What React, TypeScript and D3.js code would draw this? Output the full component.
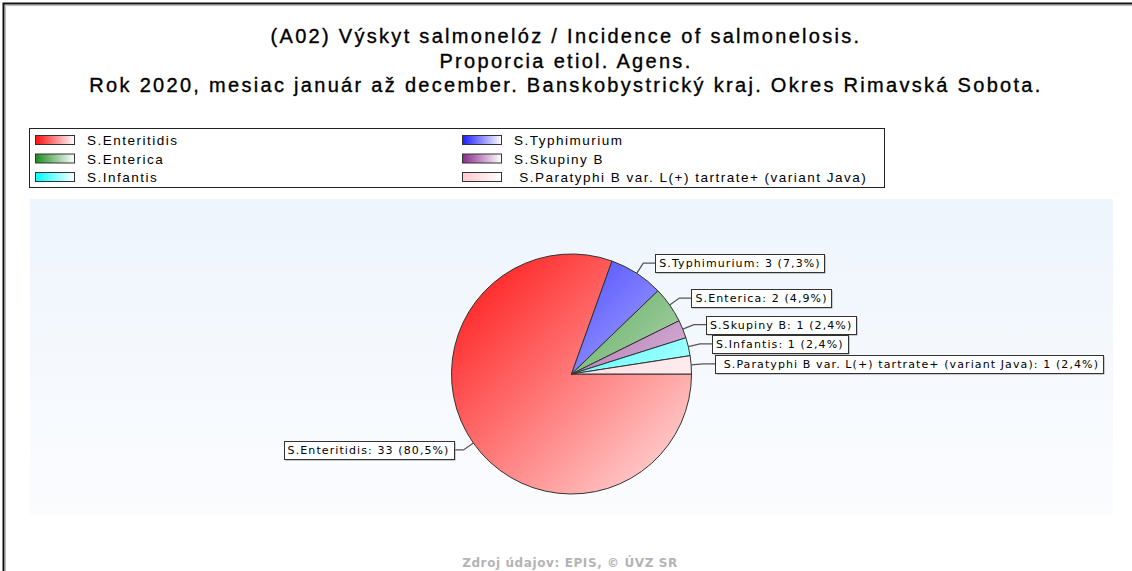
import React, { useEffect, useRef } from 'react';
import * as d3 from 'd3';

// data
const species = [
  'S.Enteritidis',
  'S.Typhimurium',
  'S.Enterica',
  'S.Skupiny B',
  'S.Infantis',
  ' S.Paratyphi B var. L(+) tartrate+ (variant Java)',
];
const counts = [33, 3, 2, 1, 1, 1];
const baseColors = ['#ff1010', '#1c1cff', '#1f8a1f', '#8a2b8a', '#00ffff', '#ffc8d0'];

const titleLines = [
  '(A02) Výskyt salmonelóz / Incidence of salmonelosis.',
  'Proporcia etiol. Agens.',
  'Rok 2020, mesiac január až december. Banskobystrický kraj. Okres Rimavská Sobota.',
];
const footer = 'Zdroj údajov: EPIS, © ÚVZ SR';

const W = 1132;
const H = 571;

export default function App() {
  const ref = useRef<SVGSVGElement>(null);

  useEffect(() => {
    const svg = d3.select(ref.current);
    svg.selectAll('*').remove();
    const defs = svg.append('defs');

    // outer frame (only top and left visible)
    svg.append('path')
      .attr('d', `M3.5,${H} V3.5 H${W}`)
      .attr('fill', 'none')
      .attr('stroke', '#111')
      .attr('stroke-width', 2);
    svg.append('path')
      .attr('d', `M5.5,${H} V5.5 H${W}`)
      .attr('fill', 'none')
      .attr('stroke', '#bbb')
      .attr('stroke-width', 1);

    // title
    svg.append('g').selectAll('text').data(titleLines).enter()
      .append('text')
      .attr('x', 566)
      .attr('y', (d, i) => 43 + i * 24.5)
      .attr('text-anchor', 'middle')
      .attr('font-family', 'Liberation Sans, Arial, sans-serif')
      .attr('font-size', 20)
      .attr('letter-spacing', 2.3)
      .attr('fill', '#000')
      .attr('stroke', '#000')
      .attr('stroke-width', 0.35)
      .text(d => d);

    // plot background
    const bg = defs.append('linearGradient')
      .attr('id', 'plotbg').attr('x1', 0).attr('y1', 0).attr('x2', 0).attr('y2', 1);
    bg.append('stop').attr('offset', 0).attr('stop-color', '#eef5fd');
    bg.append('stop').attr('offset', 1).attr('stop-color', '#fbfcfe');
    const plot = { x0: 30, x1: 1113, y0: 199, y1: 515 };
    svg.append('rect')
      .attr('x', plot.x0).attr('y', plot.y0)
      .attr('width', plot.x1 - plot.x0).attr('height', plot.y1 - plot.y0)
      .attr('fill', 'url(#plotbg)');

    // legend
    const legend = svg.append('g');
    legend.append('rect')
      .attr('x', 29.5).attr('y', 128.5).attr('width', 855).attr('height', 59)
      .attr('fill', '#fff').attr('stroke', '#222');
    species.forEach((s, i) => {
      const lg = defs.append('linearGradient').attr('id', `lg${i}`)
        .attr('x1', 0).attr('y1', 0).attr('x2', 1).attr('y2', 0);
      lg.append('stop').attr('offset', 0).attr('stop-color', baseColors[i]);
      lg.append('stop').attr('offset', 1).attr('stop-color', '#ffffff');
    });
    const col = d3.scaleOrdinal<number, number>().domain([0, 1]).range([35, 462]);
    const row = d3.scaleLinear().domain([0, 2]).range([140, 177]);
    const items = legend.selectAll('g.item').data(species).enter()
      .append('g')
      .attr('transform', (d, i) => `translate(${col(i % 2)},${row(Math.floor(i / 2))})`);
    items.append('rect')
      .attr('x', 0.5).attr('y', -4.5).attr('width', 39).attr('height', 9)
      .attr('fill', (d, i) => `url(#lg${i})`)
      .attr('stroke', '#333');
    items.append('text')
      .attr('x', 52).attr('y', 5)
      .attr('font-family', 'Liberation Sans, Arial, sans-serif')
      .attr('font-size', 13.5)
      .attr('letter-spacing', 1.5)
      .style('white-space', 'pre')
      .text(d => d);

    // pie
    const cx = (plot.x0 + plot.x1) / 2;
    const cy = 374;
    const r = 120;
    const total = d3.sum(counts);
    const pie = d3.pie<number>().sort(null)
      .startAngle(Math.PI / 2).endAngle(Math.PI / 2 + 2 * Math.PI);
    const arcs = pie(counts);
    const arc = d3.arc<d3.PieArcDatum<number>>().innerRadius(0).outerRadius(r);

    // gradients in the pie group's own coordinates (centred on 0,0)
    species.forEach((s, i) => {
      const pg = defs.append('linearGradient').attr('id', `pg${i}`)
        .attr('gradientUnits', 'userSpaceOnUse')
        .attr('x1', -r).attr('y1', -r).attr('x2', r).attr('y2', r);
      pg.append('stop').attr('offset', 0).attr('stop-color', baseColors[i]);
      pg.append('stop').attr('offset', 1)
        .attr('stop-color', d3.interpolateRgb(baseColors[i], '#ffffff')(0.88));
    });

    const pg = svg.append('g').attr('transform', `translate(${cx},${cy})`);
    pg.selectAll('path').data(arcs).enter()
      .append('path')
      .attr('d', arc)
      .attr('fill', (d, i) => `url(#pg${i})`)
      .attr('stroke', '#333')
      .attr('stroke-width', 1);

    // labels with leader lines
    const fmt = (v: number) => `${d3.format('.1f')((v / total) * 100).replace('.', ',')}%`;
    const labels = svg.append('g');
    arcs.forEach((a, i) => {
      const mid = (a.startAngle + a.endAngle) / 2; // d3 angle: 0 at 12 o'clock, clockwise
      const ux = Math.sin(mid);
      const uy = -Math.cos(mid);
      const p0 = [cx + ux * r, cy + uy * r];
      const p1 = [cx + ux * r * 1.1, cy + uy * r * 1.1];
      const right = ux >= 0;
      const p2 = [p1[0] + (right ? 12 : -10), p1[1]];
      labels.append('path')
        .attr('d', `M${p0[0]},${p0[1]} L${p1[0]},${p1[1]} L${p2[0]},${p2[1]}`)
        .attr('fill', 'none')
        .attr('stroke', '#555')
        .attr('stroke-width', 1.3);
      const g = labels.append('g');
      const t = g.append('text')
        .attr('y', p2[1] + 4)
        .attr('font-family', 'DejaVu Sans, Verdana, sans-serif')
        .attr('font-size', 11)
        .attr('letter-spacing', 1.1)
        .style('white-space', 'pre')
        .text(`${species[i]}: ${counts[i]} (${fmt(counts[i])})`);
      const tw = (t.node() as SVGTextElement).getComputedTextLength();
      const bw = tw + 8;
      const bx = right ? p2[0] : p2[0] - bw;
      t.attr('x', bx + 4);
      g.insert('rect', 'text')
        .attr('x', Math.round(bx) + 1.5).attr('y', Math.round(p2[1] - 9) + 1.5)
        .attr('width', Math.round(bw)).attr('height', 18)
        .attr('fill', '#999');
      g.insert('rect', 'text')
        .attr('x', Math.round(bx) + 0.5).attr('y', Math.round(p2[1] - 9) + 0.5)
        .attr('width', Math.round(bw)).attr('height', 18)
        .attr('fill', '#fff')
        .attr('stroke', '#333');
    });

    // footer
    svg.append('text')
      .attr('x', 570).attr('y', 567)
      .attr('text-anchor', 'middle')
      .attr('font-family', 'DejaVu Sans, Verdana, sans-serif')
      .attr('font-weight', 'bold')
      .attr('font-size', 12)
      .attr('letter-spacing', 0.6)
      .attr('fill', '#b4b4b4')
      .text(footer);
  }, []);

  return (
    <svg
      ref={ref}
      width={W}
      height={H}
      style={{ position: 'absolute', left: 0, top: 0, background: '#fff' }}
    />
  );
}
